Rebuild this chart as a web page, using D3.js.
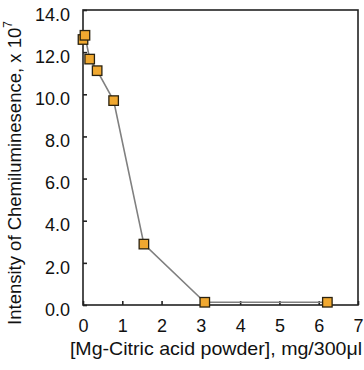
<!DOCTYPE html>
<html><head><meta charset="utf-8">
<script src="https://cdn.jsdelivr.net/npm/d3@7"></script>
<style>body{margin:0;background:#fff}svg{display:block}text{font-family:"Liberation Sans",Arial,sans-serif;fill:#111}</style>
</head><body><svg id="c" width="364" height="370"></svg>
<script>
const doses = [0, 0.05, 0.17, 0.36, 0.78, 1.55, 3.1, 6.22];
const intensity = [12.6, 12.8, 11.67, 11.12, 9.7, 2.89, 0.13, 0.13];
const xTicks = [0,1,2,3,4,5,6,7];
const yTicks = [0,2,4,6,8,10,12,14];
const xTitle = "[Mg-Citric acid powder], mg/300\u03bcl";
const yTitle = "Intensity of Chemiluminesence, x 10";
const yTitleSup = "7";

const svg = d3.select("#c");
const L=83, R=358, T=10, B=305;
const x = d3.scaleLinear().domain([0,7]).range([L,R]);
const y = d3.scaleLinear().domain([0,14]).range([B,T]);

// frame
svg.append("rect").attr("x",L).attr("y",T).attr("width",R-L).attr("height",B-T)
  .attr("fill","none").attr("stroke","#222").attr("stroke-width",1.6);

const xa = svg.append("g").attr("transform",`translate(0,${B})`)
  .call(d3.axisBottom(x).tickValues(xTicks).tickSize(-4).tickPadding(14).tickFormat(d3.format("d")));
const ya = svg.append("g").attr("transform",`translate(${L},0)`)
  .call(d3.axisLeft(y).tickValues(yTicks).tickSize(-4).tickPadding(13).tickFormat(d3.format(".1f")));
[xa,ya].forEach(a=>{
  a.select(".domain").remove();
  a.selectAll(".tick line").attr("stroke","#222").attr("stroke-width",1.6);
  a.selectAll(".tick text").attr("font-size",18).attr("fill","#111")
   .style("font-family","'Liberation Sans',Arial,sans-serif");
});
ya.selectAll(".tick text").attr("y",4.5);

// line
const pts = doses.map((d,i)=>[d,intensity[i]]);
svg.append("path").datum(pts)
  .attr("d", d3.line().x(d=>x(d[0])).y(d=>y(d[1])))
  .attr("fill","none").attr("stroke","#808080").attr("stroke-width",1.6);

// markers
const s=9.5;
svg.selectAll("rect.m").data(pts).enter().append("rect").attr("class","m")
  .attr("x",d=>x(d[0])-s/2).attr("y",d=>y(d[1])-s/2).attr("width",s).attr("height",s)
  .attr("fill","#f0a830").attr("stroke","#2a2210").attr("stroke-width",1.3);

// titles
const cx = 216;
svg.append("text").attr("transform",`translate(${cx},355) scale(1.06,1)`)
  .attr("text-anchor","middle").attr("font-size",18.5).text(xTitle);
const yt = svg.append("text").attr("transform",`translate(21,173) rotate(-90)`)
  .attr("text-anchor","middle").attr("font-size",18.5);
yt.append("tspan").text(yTitle);
yt.append("tspan").attr("font-size",12).attr("dy","-0.75em").text(yTitleSup);
</script></body></html>
